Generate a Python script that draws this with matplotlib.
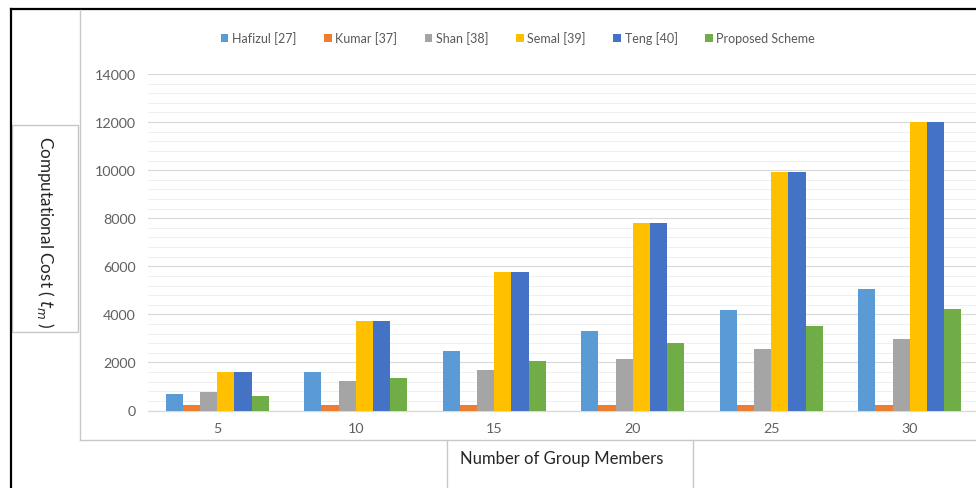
import numpy as np
import matplotlib
matplotlib.use("Agg")
from matplotlib import pyplot as plt
from matplotlib.lines import Line2D
from matplotlib.patches import Rectangle

plt.rcParams['font.family'] = ['Lato', 'DejaVu Sans']

# data
members = ["5", "10", "15", "20", "25", "30"]
hafizul = [700, 1600, 2475, 3320, 4180, 5070]
kumar = [240, 240, 240, 240, 240, 240]
shan = [790, 1225, 1670, 2140, 2560, 2990]
semal = [1620, 3710, 5750, 7800, 9920, 12000]
teng = [1620, 3710, 5750, 7800, 9920, 12000]
proposed = [600, 1350, 2040, 2790, 3520, 4225]

series = [("Hafizul [27]", hafizul, "#5B9BD5"),
          ("Kumar [37]", kumar, "#ED7D31"),
          ("Shan [38]", shan, "#A5A5A5"),
          ("Semal [39]", semal, "#FFC000"),
          ("Teng [40]", teng, "#4472C4"),
          ("Proposed Scheme", proposed, "#70AD47")]

W, H = 976, 489
fig = plt.figure(figsize=(W / 100, H / 100), dpi=100)


def fx(x):
    return x / W


def fy(y):
    return 1 - y / H


# plot area in pixel terms
left, right, top, bottom = 148, 979, 75, 411.5
ax = fig.add_axes([fx(left), fy(bottom), fx(right - left), (bottom - top) / H])

x = np.arange(len(members))
w = 0.124
for k, (name, vals, col) in enumerate(series):
    ax.bar(x + (k - 2.5) * w, vals, width=w, color=col, label=name, zorder=3)

ax.set_xlim(-0.5, len(members) - 0.5)
ax.set_ylim(0, 14000)
ax.set_yticks(np.arange(0, 14001, 2000))
ax.set_yticks(np.arange(0, 14001, 400), minor=True)
ax.set_xticks(x)
ax.set_xticklabels(members)
ax.tick_params(axis='both', which='both', length=0, labelsize=10.3, colors="#606060")
ax.tick_params(axis='y', pad=9)
ax.tick_params(axis='x', pad=8)
ax.grid(axis='y', which='major', color="#D9D9D9", lw=0.8, zorder=0)
ax.grid(axis='y', which='minor', color="#EFEFEF", lw=0.7, zorder=0)
for s in ["top", "right", "left"]:
    ax.spines[s].set_visible(False)
ax.spines["bottom"].set_color("#D9D9D9")
ax.spines["bottom"].set_linewidth(0.9)

leg = fig.legend(loc="center", bbox_to_anchor=(fx(518), fy(39)), ncol=6, frameon=False,
                 fontsize=9, handlelength=0.6, handleheight=0.6, handletextpad=0.3,
                 columnspacing=2.2)
for t in leg.get_texts():
    t.set_color("#595959")

# frame lines and label boxes
gray = "#C8C8C8"
fig.add_artist(Line2D([fx(11), fx(976)], [fy(10), fy(10)], color="black", lw=1.6))
fig.add_artist(Line2D([fx(11), fx(11)], [fy(10), fy(489)], color="black", lw=1.6))
fig.add_artist(Line2D([fx(80), fx(80)], [fy(11), fy(441)], color=gray, lw=1.0))
fig.add_artist(Line2D([fx(80), fx(976)], [fy(441), fy(441)], color=gray, lw=1.0))
fig.add_artist(Rectangle((fx(12), fy(333)), fx(66), (333 - 126) / H, fill=False,
                         edgecolor=gray, lw=1.0))
fig.add_artist(Line2D([fx(447), fx(447)], [fy(441), fy(489)], color=gray, lw=1.0))
fig.add_artist(Line2D([fx(693), fx(693)], [fy(441), fy(489)], color=gray, lw=1.0))

fig.text(fx(45), fy(232), "Computational Cost ( $t_m$ )", rotation=270, ha="center",
         va="center", fontsize=12.3, color="#262626")
fig.text(fx(562), fy(459), "Number of Group Members", ha="center", va="center",
         fontsize=12, color="#262626")

fig.savefig("out.png", dpi=100)
